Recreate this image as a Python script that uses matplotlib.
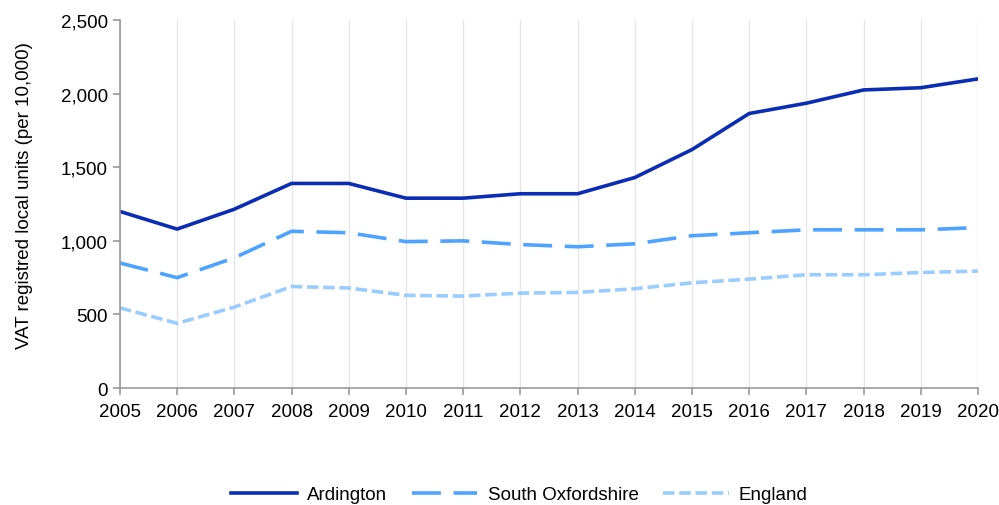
import matplotlib.pyplot as plt
from matplotlib.ticker import FuncFormatter

plt.rcParams['font.family'] = ['Liberation Sans', 'DejaVu Sans']

years = list(range(2005, 2021))
ardington = [1200, 1080, 1215, 1390, 1390, 1290, 1290, 1320, 1320, 1430, 1620, 1865, 1935, 2025, 2040, 2100]
south_oxfordshire = [850, 750, 885, 1065, 1055, 995, 1000, 975, 960, 980, 1035, 1055, 1075, 1075, 1075, 1090]
england = [545, 440, 550, 690, 680, 630, 625, 645, 650, 675, 715, 740, 770, 770, 785, 795]

fig = plt.figure(figsize=(9.99, 5.06), dpi=100)
ax = fig.add_axes([0.12, 0.231, 0.859, 0.7275])

ax.plot(years, ardington, color='#0a2db3', lw=2.6, label='Ardington')
ax.plot(years, south_oxfordshire, color='#4da3ff', lw=2.6, dashes=(8, 3.5), label='South Oxfordshire')
ax.plot(years, england, color='#99ccff', lw=2.6, dashes=(3.2, 1.3), label='England')

ax.set_xlim(2005, 2020)
ax.set_ylim(0, 2500)
ax.set_xticks(years)
ax.set_yticks(range(0, 2501, 500))
ax.yaxis.set_major_formatter(FuncFormatter(lambda v, p: f'{int(v):,}'))
ax.grid(axis='x', color='#e6e6e6', lw=1)
ax.set_axisbelow(True)
for s in ['top', 'right']:
    ax.spines[s].set_visible(False)
for s in ['left', 'bottom']:
    ax.spines[s].set_color('#999999')
    ax.spines[s].set_linewidth(1.2)
ax.tick_params(colors='#999999', labelcolor='black', labelsize=13.5, length=5, width=1.2)
ax.tick_params(axis='x', pad=6)
ax.set_ylabel('VAT registred local units (per 10,000)', fontsize=13.5)
ax.yaxis.set_label_coords(-0.101, 0.527)

fig.legend(loc='lower center', bbox_to_anchor=(0.52, -0.03), ncol=3, frameon=False,
           fontsize=13.5, handlelength=3.5, columnspacing=1.3, handletextpad=0.55)

fig.savefig('out.png', dpi=100)
